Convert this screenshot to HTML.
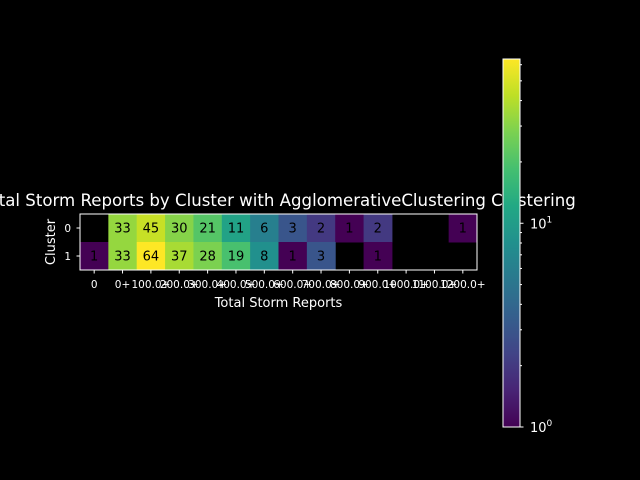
<!DOCTYPE html>
<html><head><meta charset="utf-8"><style>
html,body{margin:0;background:#000;width:640px;height:480px;overflow:hidden}
svg{display:block}
svg text{font-family:"DejaVu Sans","Liberation Sans",sans-serif}
</style></head><body>
<svg id="chart" width="640" height="480" xmlns="http://www.w3.org/2000/svg">
<defs><linearGradient id="vg" x1="0" y1="1" x2="0" y2="0"></linearGradient></defs>
</svg>
<script>
const xLabels=["0","0+","100.0+","200.0+","300.0+","400.0+","500.0+","600.0+","700.0+","800.0+","900.0+","1000.0+","1100.0+","1200.0+"];
const yLabels=["0","1"];
const row0=[null,33,45,30,21,11,6,3,2,1,2,null,null,1];
const row1=[1,33,64,37,28,19,8,1,3,null,1,null,null,null];
const cbMin=1, cbMax=64;

const NS="http://www.w3.org/2000/svg";
const svg=document.getElementById('chart');
function el(t,a,p){const e=document.createElementNS(NS,t);for(const k in a)e.setAttribute(k,a[k]);(p||svg).appendChild(e);return e;}
const V=[[68,1,84],[72,36,117],[65,68,135],[53,95,141],[42,120,142],[33,144,141],[34,168,132],[68,191,112],[122,209,81],[189,223,38],[253,231,37]];
function viridis(t){t=Math.max(0,Math.min(1,t));const f=t*10,i=Math.min(9,Math.floor(f)),r=f-i;const a=V[i],b=V[i+1];return `rgb(${a.map((v,k)=>Math.round(v+(b[k]-v)*r)).join(',')})`;}
function norm(v){return Math.log(v/cbMin)/Math.log(cbMax/cbMin);}
const L=80,R=477,T=214,B=270;
const cw=(R-L)/xLabels.length, ch=(B-T)/yLabels.length;
const xs=i=>L+i*cw, ys=j=>T+j*ch;
const rows=[row0,row1];
rows.forEach((row,j)=>row.forEach((v,i)=>{
  if(v==null)return;
  const r=el('rect',{x:xs(i),y:ys(j),width:cw+0.5,height:ch+0.5,fill:viridis(norm(v))});
  
  
  const t=el('text',{x:xs(i)+cw/2,y:ys(j)+ch/2+4.5,'text-anchor':'middle','font-size':'13',fill:'#000'});
  t.textContent=v;
  
  
}));
el('rect',{x:L,y:T,width:R-L,height:B-T,fill:'none',stroke:'#fff','stroke-width':1});
xLabels.forEach((s,i)=>{
  const x=xs(i)+cw/2;
  el('line',{x1:x,x2:x,y1:B,y2:B+3.5,stroke:'#fff'});
  const t=el('text',{x:x,y:B+18,'text-anchor':'middle','font-size':'10.5',fill:'#fff'});t.textContent=s;
  
  
});
yLabels.forEach((s,j)=>{
  const y=ys(j)+ch/2;
  el('line',{x1:L-3.5,x2:L,y1:y,y2:y,stroke:'#fff'});
  const t=el('text',{x:L-9,y:y+4,'text-anchor':'end','font-size':'10.5',fill:'#fff'});t.textContent=s;
  
  
});
let t=el('text',{x:(L+R)/2,y:307,'text-anchor':'middle','font-size':'13',fill:'#fff'});t.textContent='Total Storm Reports';

t=el('text',{x:55,y:(T+B)/2,'text-anchor':'middle','font-size':'13',fill:'#fff',transform:`rotate(-90 55 ${(T+B)/2})`});t.textContent='Cluster';

t=el('text',{x:(L+R)/2,y:206,'text-anchor':'middle','font-size':'16.6',fill:'#fff'});t.textContent='Total Storm Reports by Cluster with AgglomerativeClustering Clustering';

const cbL=503,cbR=520,cbT=59,cbB=427;
const g=document.getElementById('vg');
for(let k=0;k<=20;k++){el('stop',{offset:k/20,'stop-color':viridis(k/20)},g);}
const cb=el('rect',{x:cbL,y:cbT,width:cbR-cbL,height:cbB-cbT,fill:'url(#vg)',stroke:'#fff','stroke-width':1});

const cy=v=>cbB-norm(v)*(cbB-cbT);
[2,3,4,5,6,7,8,9,20,30,40,50,60].forEach(v=>el('line',{x1:cbR,x2:cbR+2,y1:cy(v),y2:cy(v),stroke:'#fff'}));
[[1,'0'],[10,'1']].forEach(([v,e])=>{
  el('line',{x1:cbR,x2:cbR+3.5,y1:cy(v),y2:cy(v),stroke:'#fff'});
  const tt=el('text',{x:cbR+10,y:cy(v)+5,'font-size':'13',fill:'#fff'});
  tt.innerHTML='10<tspan dy="-6" font-size="9">'+e+'</tspan>';
  
});
</script>
</body></html>
